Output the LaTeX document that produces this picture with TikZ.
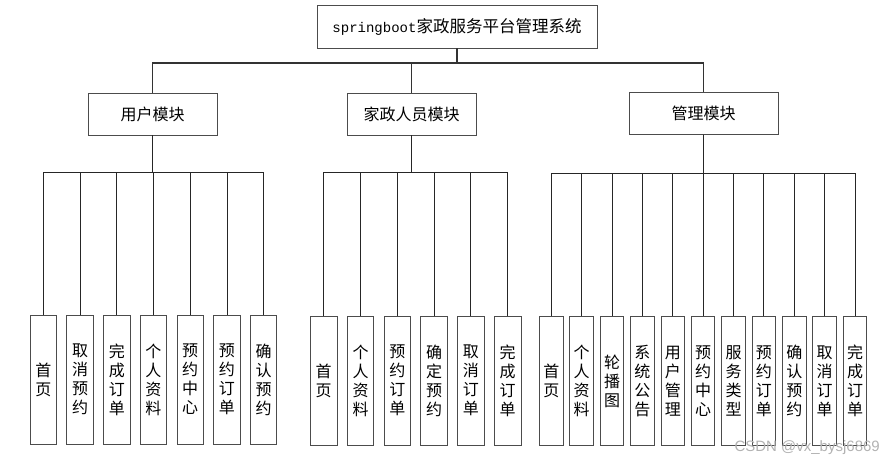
\documentclass[tikz,border=0pt]{standalone}
\usepackage{fontspec}
\setmainfont{Noto Sans CJK SC}
\newfontfamily\latinmono{Liberation Mono}
\newfontfamily\wmfont{Liberation Sans}
\begin{document}
\begin{tikzpicture}[x=1pt,y=-1pt,
  box/.style={draw=black!70, line width=0.9pt, fill=white, inner sep=0pt},
  modbox/.style={box, minimum height=42pt, font=\fontsize{16}{19}\selectfont},
  leafa/.style={box, minimum width=26.5pt, minimum height=129pt, font=\fontsize{16}{19}\selectfont, align=center},
  leafb/.style={box, minimum width=23.5pt, minimum height=129pt, font=\fontsize{16}{19}\selectfont, align=center},
  conn/.style={draw=black!85, line width=0.9pt},
  busline/.style={draw=black!80, line width=1.6pt}]
\useasboundingbox (0,0) rectangle (882,463);
% root
\node[box, minimum width=280pt, minimum height=43pt, font=\fontsize{16.5}{19}\selectfont] (root) at (457,26.5) {{\latinmono\fontsize{14}{19}\selectfont springboot}家政服务平台管理系统};
% modules
\node[modbox, minimum width=129pt] (u) at (152.5,114) {用户模块};
\node[modbox, minimum width=129pt] (w) at (411.5,114) {家政人员模块};
\node[modbox, minimum width=149pt] (m) at (703.5,113.5) {管理模块};
\coordinate (b0) at (457,63);
\draw[busline] (root.south) -- (b0);
\draw[busline] (u.north) |- (b0) -| (m.north);
\draw[busline] (w.north) -- (w.north |- b0);
% group 1
\foreach \i/\t in {0/首\\页, 1/取\\消\\预\\约, 2/完\\成\\订\\单, 3/个\\人\\资\\料, 4/预\\约\\中\\心, 5/预\\约\\订\\单, 6/确\\认\\预\\约}{
  \node[leafa] (u\i) at ({43.3+36.73*\i},379.5) {\t};
  \draw[conn] (u.south) -- (u.south |- 0,172) -| (u\i.north);
}
% group 2
\foreach \i/\t in {0/首\\页, 1/个\\人\\资\\料, 2/预\\约\\订\\单, 3/确\\定\\预\\约, 4/取\\消\\订\\单, 5/完\\成\\订\\单}{
  \node[leafa] (w\i) at ({323.7+36.8*\i},380.5) {\t};
  \draw[conn] (w.south) -- (w.south |- 0,172) -| (w\i.north);
}
% group 3
\foreach \i/\t in {0/首\\页, 1/个\\人\\资\\料, 2/轮\\播\\图, 3/系\\统\\公\\告, 4/用\\户\\管\\理, 5/预\\约\\中\\心, 6/服\\务\\类\\型, 7/预\\约\\订\\单, 8/确\\认\\预\\约, 9/取\\消\\订\\单, 10/完\\成\\订\\单}{
  \node[leafb] (m\i) at ({551.3+30.37*\i},381.2) {\t};
  \draw[conn] (m.south) -- (m.south |- 0,173.3) -| (m\i.north);
}
\node[anchor=east, text=black!30, font=\wmfont\fontsize{15}{16}\selectfont, inner sep=0pt] (wm) at (880,448) {CSDN @vx\_bysj6869};
\end{tikzpicture}
\end{document}
